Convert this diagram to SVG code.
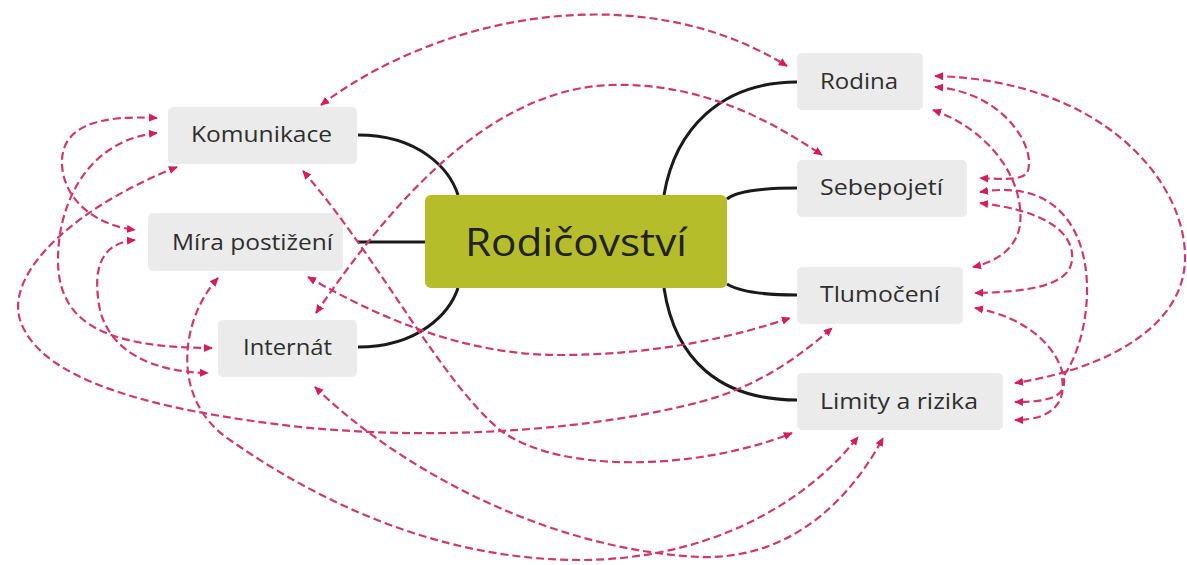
<svg xmlns="http://www.w3.org/2000/svg" width="1187" height="565" viewBox="0 0 1187 565">
<style>
.node rect{fill:#ebebeb}
.node text{font-family:"Open Sans","Liberation Sans",sans-serif;font-size:21px;fill:#2e2e2e}
.branch{fill:none;stroke:#1a1a1a;stroke-width:3}
.link{fill:none;stroke:#d0386a;stroke-width:2.2;stroke-dasharray:8 4;marker-start:url(#ah);marker-end:url(#ah)}
</style>
<defs>
<marker id="ah" viewBox="0 0 10 10" refX="9" refY="5" markerWidth="9" markerHeight="9" markerUnits="userSpaceOnUse" orient="auto-start-reverse">
<path d="M0,0.5 L10,5 L0,9.5 z" fill="#d41c5e" stroke="none"/>
</marker>
</defs>
<rect width="1187" height="565" fill="#fff"/>
<g id="branches">
<path class="branch" d="M358,135 C420,135 450,170 458,195"/>
<path class="branch" d="M358,242 L425,242"/>
<path class="branch" d="M358,347 C420,347 450,312 458,288"/>
<path class="branch" d="M797,82 C720,82 675,130 664,195"/>
<path class="branch" d="M797,188 C760,188 737,191 727,199"/>
<path class="branch" d="M727,284 C740,292 765,295 797,295"/>
<path class="branch" d="M664,288 C675,360 720,400 797,400"/>
</g>
<g id="center"><rect x="425" y="195" width="302" height="93" rx="6" fill="#b6bd2b"/>
<text x="465" y="256" font-family="Open Sans, Liberation Sans, sans-serif" font-size="38" fill="#222" textLength="222" lengthAdjust="spacingAndGlyphs">Rodičovství</text></g>
<g id="n-komunikace" class="node"><rect x="168" y="107" width="189" height="57" rx="5"/><text x="191" y="142" textLength="141" lengthAdjust="spacingAndGlyphs">Komunikace</text></g>
<g id="n-mira" class="node"><rect x="148" y="213" width="195" height="58" rx="5"/><text x="172" y="250" textLength="161" lengthAdjust="spacingAndGlyphs">Míra postižení</text></g>
<g id="n-internat" class="node"><rect x="218" y="320" width="139" height="57" rx="5"/><text x="243" y="355" textLength="89" lengthAdjust="spacingAndGlyphs">Internát</text></g>
<g id="n-rodina" class="node"><rect x="797" y="53" width="126" height="57" rx="5"/><text x="820" y="89" textLength="78" lengthAdjust="spacingAndGlyphs">Rodina</text></g>
<g id="n-sebepojeti" class="node"><rect x="797" y="160" width="170" height="57" rx="5"/><text x="820" y="195" textLength="123" lengthAdjust="spacingAndGlyphs">Sebepojetí</text></g>
<g id="n-tlumoceni" class="node"><rect x="797" y="267" width="166" height="57" rx="5"/><text x="820" y="302" textLength="120" lengthAdjust="spacingAndGlyphs">Tlumočení</text></g>
<g id="n-limity" class="node"><rect x="797" y="373" width="206" height="57" rx="5"/><text x="820" y="409" textLength="158" lengthAdjust="spacingAndGlyphs">Limity a rizika</text></g>
<g id="connectors">
<path class="link" d="M321,105 C440,15 640,-25 787,66"/>
<path class="link" d="M316,313 C380,220 480,90 610,85 C700,82 770,120 822,155"/>
<path class="link" d="M157,118 C100,115 60,125 62,165 C64,200 95,225 135,230"/>
<path class="link" d="M157,133 C90,140 58,200 58,260 C58,320 100,348 212,348"/>
<path class="link" d="M177,167 C80,205 5,270 20,320 C40,380 150,410 300,427 C450,442 600,428 700,402 C760,386 800,356 832,328"/>
<path class="link" d="M135,240 C100,243 92,270 100,310 C110,350 150,372 208,373"/>
<path class="link" d="M218,278 C180,320 170,400 230,440 C330,510 450,560 580,560 C700,560 800,510 858,437"/>
<path class="link" d="M315,387 C400,470 550,550 700,557 C790,560 850,500 883,438"/>
<path class="link" d="M303,171 C380,260 440,380 500,430 C560,475 700,470 792,433"/>
<path class="link" d="M308,277 C400,330 480,355 560,355 C660,355 740,335 790,318"/>
<path class="link" d="M935,76 C1100,80 1187,180 1185,260 C1183,330 1100,370 1015,383"/>
<path class="link" d="M935,87 C1005,92 1038,150 1027,173 C1020,181 1000,179 980,178"/>
<path class="link" d="M933,110 C990,130 1025,180 1020,225 C1016,250 995,262 973,267"/>
<path class="link" d="M980,192 C1110,170 1100,330 1062,378 C1066,400 1055,420 1015,420"/>
<path class="link" d="M980,203 C1040,210 1075,230 1072,260 C1070,285 1030,292 975,293"/>
<path class="link" d="M975,308 C1030,318 1060,350 1064,380 C1066,398 1045,402 1015,402"/>
</g>
</svg>
